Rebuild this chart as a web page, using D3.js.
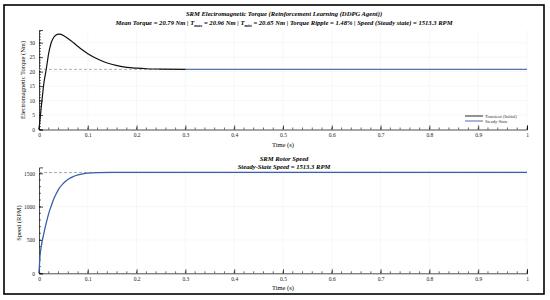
<!DOCTYPE html>
<html>
<head>
<meta charset="utf-8">
<script src="https://cdn.jsdelivr.net/npm/d3@7"></script>
<style>
body { margin: 0; background: #fff; }
text { font-family: "Liberation Serif", "DejaVu Serif", serif; }
</style>
</head>
<body>
<div id="chart"></div>
<script>
var width = 550;
var height = 300;

// torque transient (time s, torque Nm)
var torqueTime = [0, 0.003, 0.006, 0.01, 0.015, 0.02, 0.025, 0.03, 0.035, 0.04, 0.045, 0.05, 0.06, 0.07, 0.08, 0.09, 0.1, 0.12, 0.14, 0.16, 0.18, 0.2, 0.22, 0.25, 0.3];
var torqueVal = [0, 5, 10, 16, 21, 26.5, 30, 31.8, 32.7, 33.0, 32.9, 32.5, 31.4, 30.1, 28.7, 27.4, 26.2, 24.4, 23.0, 22.1, 21.5, 21.2, 21.0, 20.9, 20.8];
// torque steady state
var steadyTime = [0.3, 0.35, 0.4, 0.45, 0.5, 0.55, 0.6, 0.65, 0.7, 0.75, 0.8, 0.85, 0.9, 0.95, 1];
var steadyVal = [20.8, 20.78, 20.8, 20.79, 20.8, 20.78, 20.79, 20.8, 20.79, 20.78, 20.8, 20.79, 20.8, 20.78, 20.79];
// speed (time s, RPM)
var speedTime = [0, 0.002, 0.005, 0.01, 0.015, 0.02, 0.025, 0.03, 0.035, 0.04, 0.05, 0.06, 0.07, 0.08, 0.09, 0.1, 0.12, 0.15, 0.2, 0.4, 0.6, 0.8, 1];
var speedVal = [0, 250, 420, 600, 760, 900, 1010, 1110, 1190, 1260, 1350, 1410, 1450, 1475, 1492, 1502, 1510, 1513, 1513.3, 1513.3, 1513.3, 1513.3, 1513.3];

var meanTorque = 20.79;
var steadySpeed = 1513.3;
var xTicks = [0, 0.1, 0.2, 0.3, 0.4, 0.5, 0.6, 0.7, 0.8, 0.9, 1];
var torqueTicks = [0, 5, 10, 15, 20, 25, 30];
var speedTicks = [0, 500, 1000, 1500];
var legendLabels = ["Transient (Initial)", "Steady-State"];

var blue = "#3a5fab";

var svg = d3.select("#chart")
    .append("svg")
    .attr("width", width)
    .attr("height", height);

svg.append("rect")
    .attr("x", 4).attr("y", 5)
    .attr("width", 540).attr("height", 289)
    .attr("fill", "#fff")
    .attr("stroke", "#000")
    .attr("stroke-width", 1.6);

var x = d3.scaleLinear().domain([0, 1]).range([39, 527]);
var yT = d3.scaleLinear().domain([0, 34.4]).range([129.5, 30]);
var yS = d3.scaleLinear().domain([0, 1589]).range([273.3, 167.4]);

function drawAxes(y, yTicks, yMinorStep, axisY) {
    // faint grid
    svg.append("g").selectAll("line.gx")
        .data(xTicks.slice(1))
        .enter().append("line")
        .attr("x1", function(d) { return x(d); })
        .attr("x2", function(d) { return x(d); })
        .attr("y1", y.range()[0])
        .attr("y2", y.range()[1])
        .attr("stroke", "#f1f1f1")
        .attr("stroke-width", 0.6);
    svg.append("g").selectAll("line.gy")
        .data(yTicks.slice(1))
        .enter().append("line")
        .attr("x1", x(0))
        .attr("x2", x(1))
        .attr("y1", function(d) { return y(d); })
        .attr("y2", function(d) { return y(d); })
        .attr("stroke", "#f1f1f1")
        .attr("stroke-width", 0.6);

    // x axis, ticks pointing in
    var gx = svg.append("g")
        .attr("transform", "translate(0," + axisY + ")")
        .call(d3.axisBottom(x).tickValues(xTicks).tickSize(-4).tickPadding(4)
            .tickFormat(d3.format("")));
    gx.append("g").selectAll("line")
        .data(d3.range(0, 51).map(function(i) { return i / 50; }))
        .enter().append("line")
        .attr("x1", function(d) { return x(d); })
        .attr("x2", function(d) { return x(d); })
        .attr("y1", 0).attr("y2", -2)
        .attr("stroke", "#000")
        .attr("stroke-width", 0.6);

    var gy = svg.append("g")
        .attr("transform", "translate(" + x(0) + ",0)")
        .call(d3.axisLeft(y).tickValues(yTicks).tickSize(-4).tickPadding(4)
            .tickFormat(d3.format("")));
    var ymax = y.domain()[1];
    gy.append("g").selectAll("line")
        .data(d3.range(0, Math.floor(ymax / yMinorStep) + 1).map(function(i) { return i * yMinorStep; }))
        .enter().append("line")
        .attr("x1", 0).attr("x2", 2)
        .attr("y1", function(d) { return y(d); })
        .attr("y2", function(d) { return y(d); })
        .attr("stroke", "#000")
        .attr("stroke-width", 0.6);

    [gx, gy].forEach(function(g) {
        g.select(".domain").attr("stroke", "#000").attr("stroke-width", 0.7);
        g.selectAll(".tick line").attr("stroke", "#000").attr("stroke-width", 0.7);
        g.selectAll(".tick text")
            .attr("font-family", "Liberation Serif")
            .attr("font-size", 5.5)
            .attr("fill", "#222");
    });
}

// ---- top: torque ----
drawAxes(yT, torqueTicks, 1, 129.5);

svg.append("line")
    .attr("x1", x(0)).attr("x2", x(1))
    .attr("y1", yT(meanTorque)).attr("y2", yT(meanTorque))
    .attr("stroke", "#999")
    .attr("stroke-width", 0.8)
    .attr("stroke-dasharray", "3,2");

var lineT = d3.line()
    .x(function(d) { return x(d[0]); })
    .y(function(d) { return yT(d[1]); })
    .curve(d3.curveMonotoneX);

svg.append("path")
    .datum(d3.zip(steadyTime, steadyVal))
    .attr("d", lineT)
    .attr("fill", "none")
    .attr("stroke", "#5a74ad")
    .attr("stroke-width", 1.4);

svg.append("path")
    .datum(d3.zip(torqueTime, torqueVal))
    .attr("d", lineT)
    .attr("fill", "none")
    .attr("stroke", "#111")
    .attr("stroke-width", 1.2);

// legend
var legend = svg.append("g");
legend.selectAll("line")
    .data(legendLabels)
    .enter().append("line")
    .attr("x1", 465).attr("x2", 483)
    .attr("y1", function(d, i) { return 116 + i * 5; })
    .attr("y2", function(d, i) { return 116 + i * 5; })
    .attr("stroke", function(d, i) { return i == 0 ? "#111" : blue; })
    .attr("stroke-width", 0.9);
legend.selectAll("text")
    .data(legendLabels)
    .enter().append("text")
    .attr("x", 485)
    .attr("y", function(d, i) { return 117.6 + i * 5; })
    .attr("font-size", 4.5)
    .attr("fill", "#333")
    .text(function(d) { return d; });

svg.append("text")
    .attr("x", 284).attr("y", 16)
    .attr("text-anchor", "middle")
    .attr("font-size", 6.6)
    .attr("font-weight", "bold")
    .attr("font-style", "italic")
    .text("SRM Electromagnetic Torque (Reinforcement Learning (DDPG Agent))");

var sub = svg.append("text")
    .attr("x", 284).attr("y", 24.5)
    .attr("text-anchor", "middle")
    .attr("font-size", 6.6)
    .attr("font-weight", "bold")
    .attr("font-style", "italic");
sub.append("tspan").text("Mean Torque = 20.79 Nm  |  T");
sub.append("tspan").attr("font-size", 4.5).attr("dy", 2).text("max");
sub.append("tspan").attr("dy", -2).text(" = 20.96 Nm  |  T");
sub.append("tspan").attr("font-size", 4.5).attr("dy", 2).text("min");
sub.append("tspan").attr("dy", -2).text(" = 20.65 Nm  |  Torque Ripple = 1.48%  |  Speed (Steady state) = 1513.3 RPM");

svg.append("text")
    .attr("x", 283).attr("y", 146.5)
    .attr("text-anchor", "middle")
    .attr("font-size", 6.5)
    .text("Time (s)");

svg.append("text")
    .attr("transform", "translate(25,80) rotate(-90)")
    .attr("text-anchor", "middle")
    .attr("font-size", 6.5)
    .text("Electromagnetic Torque (Nm)");

// ---- bottom: speed ----
drawAxes(yS, speedTicks, 100, 273.3);

svg.append("line")
    .attr("x1", x(0)).attr("x2", x(1))
    .attr("y1", yS(steadySpeed)).attr("y2", yS(steadySpeed))
    .attr("stroke", "#999")
    .attr("stroke-width", 0.8)
    .attr("stroke-dasharray", "3,2");

var lineS = d3.line()
    .x(function(d) { return x(d[0]); })
    .y(function(d) { return yS(d[1]); })
    .curve(d3.curveMonotoneX);

svg.append("path")
    .datum(d3.zip(speedTime, speedVal))
    .attr("d", lineS)
    .attr("fill", "none")
    .attr("stroke", blue)
    .attr("stroke-width", 1.3);

svg.append("text")
    .attr("x", 284).attr("y", 161)
    .attr("text-anchor", "middle")
    .attr("font-size", 6.6)
    .attr("font-weight", "bold")
    .attr("font-style", "italic")
    .text("SRM Rotor Speed");

svg.append("text")
    .attr("x", 284).attr("y", 169)
    .attr("text-anchor", "middle")
    .attr("font-size", 6.6)
    .attr("font-weight", "bold")
    .attr("font-style", "italic")
    .text("Steady-State Speed = 1513.3 RPM");

svg.append("text")
    .attr("x", 283).attr("y", 290)
    .attr("text-anchor", "middle")
    .attr("font-size", 6.5)
    .text("Time (s)");

svg.append("text")
    .attr("transform", "translate(21,223) rotate(-90)")
    .attr("text-anchor", "middle")
    .attr("font-size", 6.5)
    .text("Speed (RPM)");
</script>
</body>
</html>
